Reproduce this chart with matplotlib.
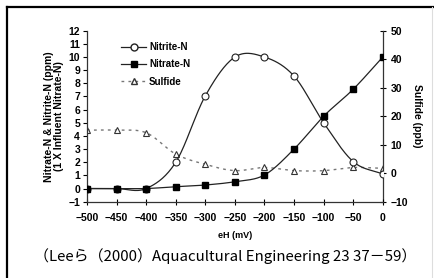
import numpy as np
import matplotlib.pyplot as plt
from matplotlib.lines import Line2D

# data
eh = [-500, -450, -400, -350, -300, -250, -200, -150, -100, -50, 0]
nitrite = [0, 0, 0, 2.0, 7.05, 10.0, 10.0, 8.55, 5.0, 2.05, 1.1]
nitrate = [0, 0, 0, 0.14, 0.27, 0.52, 1.03, 3.0, 5.5, 7.55, 10.0]
sulfide = [15.1, 15.1, 14.2, 6.7, 3.1, 0.9, 2.0, 0.9, 0.9, 2.0, 1.7]

caption = "（Leeら（2000）Aquacultural Engineering 23 37－59）"


def smooth(x, y, n=30):
    # Catmull-Rom curve, like a spreadsheet "smoothed line"
    x = np.asarray(x, float)
    y = np.asarray(y, float)
    px = np.concatenate([[2 * x[0] - x[1]], x, [2 * x[-1] - x[-2]]])
    py = np.concatenate([[2 * y[0] - y[1]], y, [2 * y[-1] - y[-2]]])
    xs, ys = [], []
    t = np.linspace(0, 1, n)
    for i in range(1, len(px) - 2):
        for p, out in ((px, xs), (py, ys)):
            p0, p1, p2, p3 = p[i - 1], p[i], p[i + 1], p[i + 2]
            out.extend(0.5 * (2 * p1 + (-p0 + p2) * t
                              + (2 * p0 - 5 * p1 + 4 * p2 - p3) * t ** 2
                              + (-p0 + 3 * p1 - 3 * p2 + p3) * t ** 3))
    return np.array(xs), np.array(ys)


plt.rcParams['font.family'] = ['Liberation Sans', 'DejaVu Sans']
plt.rcParams['font.weight'] = 'bold'

fig = plt.figure(figsize=(4.34, 2.78), dpi=100)
ax = fig.add_axes([0.2005, 0.2745, 0.6815, 0.615])
ax2 = ax.twinx()

# frame of the picture
fig.add_artist(Line2D([0.016, 1.0], [0.975, 0.975], color='black', lw=1.6))
fig.add_artist(Line2D([0.016, 0.016], [0.0, 0.975], color='black', lw=1.6))
fig.add_artist(Line2D([0.995, 0.995], [0.0, 0.975], color='#dddddd', lw=0.8))

sx, sy = smooth(eh, sulfide)
ax2.plot(sx, sy, color='#777777', lw=1.0, ls=(0, (2, 3)))
ax2.plot(eh, sulfide, ls='none', marker='^', ms=5, mfc='white', mec='#333333', mew=0.8)

nx, ny = smooth(eh, nitrite)
ax.plot(nx, ny, color='#222222', lw=0.9)
ax.plot(eh, nitrite, ls='none', marker='o', ms=5, mfc='white', mec='#222222', mew=0.8, zorder=3)
qx, qy = smooth(eh, nitrate)
ax.plot(qx, qy, color='#222222', lw=0.9)
ax.plot(eh, nitrate, ls='none', marker='s', ms=5, color='black', zorder=4)

ax.set_xlim(-500, 0)
ax.set_ylim(-1, 12)
ax2.set_ylim(-10, 50)
ax.set_xticks(eh)
ax.set_yticks(range(-1, 13))
ax2.set_yticks(range(-10, 51, 10))
ax.set_zorder(ax2.get_zorder() + 1)
ax.patch.set_visible(False)

for a in (ax, ax2):
    a.spines['top'].set_visible(False)
    for s in a.spines.values():
        s.set_color('#333333')
        s.set_linewidth(0.9)
ax.spines['right'].set_visible(False)
ax2.spines['left'].set_visible(False)
ax2.spines['bottom'].set_visible(False)

ax.tick_params(axis='y', direction='out', length=3, width=0.8, labelsize=7.5, pad=2)
ax.tick_params(axis='x', direction='inout', length=4, width=0.8, labelsize=7.5, pad=6)
ax2.tick_params(axis='y', direction='inout', length=5, width=0.8, labelsize=7.5, pad=3)

ax.set_xlabel('eH (mV)', fontsize=6.5, fontweight='bold', labelpad=6)
ax.set_ylabel('Nitrate-N & Nitrite-N (ppm)\n(1 X Influent Nitrate-N)', fontsize=7.5,
              fontweight='bold', labelpad=3, linespacing=1.05)
ax2.set_ylabel('Sulfide (ppb)', fontsize=7.5, fontweight='bold', rotation=270, labelpad=10)

handles = [
    Line2D([], [], color='#222222', lw=0.9, marker='o', ms=5, mfc='white', mec='#222222'),
    Line2D([], [], color='#222222', lw=0.9, marker='s', ms=5, mfc='black', mec='black'),
    Line2D([], [], color='#777777', lw=1.0, ls=(0, (2, 3)), marker='^', ms=5,
           mfc='white', mec='#333333'),
]
ax.legend(handles, ['Nitrite-N', 'Nitrate-N', 'Sulfide'], loc='upper left',
          bbox_to_anchor=(0.085, 0.985), frameon=False, fontsize=7,
          handlelength=2.6, handletextpad=0.3, labelspacing=0.75)

fig.text(0.52, 0.08, caption, ha='center', va='center', fontsize=10.8,
         fontweight='normal', family=['Noto Sans CJK JP', 'DejaVu Sans'])

fig.savefig('out.png', dpi=100)
